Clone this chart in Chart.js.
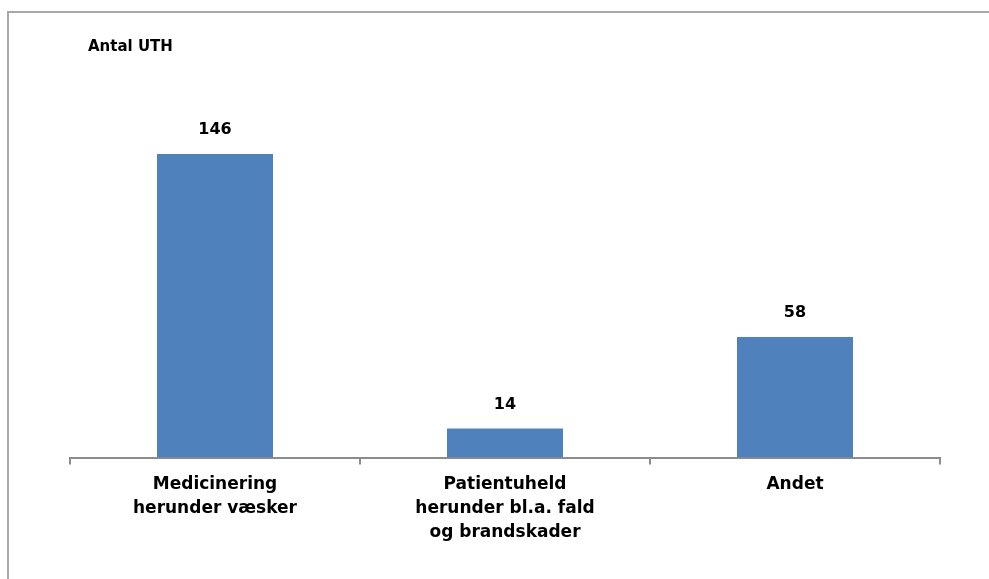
<!DOCTYPE html>
<html>
<head>
<meta charset="utf-8">
<script src="https://cdn.jsdelivr.net/npm/chart.js@4"></script>
<style>
  html, body { margin: 0; padding: 0; background: #fff; }
  #wrap { position: relative; width: 989px; height: 579px; overflow: hidden; }
  #frame { position: absolute; left: 7px; top: 11px; width: 1000px; height: 600px;
           border-left: 2px solid #a8a8a8; border-top: 2px solid #a8a8a8; }
  canvas { position: absolute; left: 0; top: 0; }
</style>
</head>
<body>
<div id="wrap">
  <div id="frame"></div>
  <canvas id="uthChart" width="989" height="579"></canvas>
</div>
<script>
var categories = [
    ['Medicinering', 'herunder væsker'],
    ['Patientuheld', 'herunder bl.a. fald', 'og brandskader'],
    ['Andet']
];
var counts = [146, 14, 58];
var yTitle = 'Antal UTH';
var barColor = '#4f81bd';

// tal over søjlerne + akse titel
var labelPlugin = {
    id: 'labels',
    afterDatasetsDraw: function (chart) {
        var ctx = chart.ctx;
        ctx.save();
        ctx.fillStyle = '#000';
        ctx.font = 'bold 16px "DejaVu Sans"';
        ctx.textAlign = 'center';
        ctx.textBaseline = 'middle';
        chart.getDatasetMeta(0).data.forEach(function (bar, i) {
            ctx.fillText(counts[i], bar.x, bar.y - 24);
        });
        ctx.textAlign = 'left';
        ctx.font = 'bold 15px "DejaVu Sans"';
        ctx.fillText(yTitle, chart.chartArea.left + 18, 47);
        ctx.restore();
    }
};

new Chart('uthChart', {
    type: 'bar',
    data: {
        labels: categories,
        datasets: [{
            label: yTitle,
            data: counts,
            backgroundColor: barColor,
            barPercentage: 0.4,
            categoryPercentage: 1
        }]
    },
    options: {
        responsive: false,
        animation: false,
        layout: { padding: { left: 70, right: 49, top: 125, bottom: 26 } },
        plugins: {
            legend: { display: false },
            tooltip: { enabled: false }
        },
        scales: {
            y: { display: false, min: 0, max: 160 },
            x: {
                grid: {
                    offset: true,
                    drawOnChartArea: false,
                    tickLength: 7,
                    color: '#8c8c8c',
                    lineWidth: 2
                },
                border: { color: '#8c8c8c', width: 2 },
                ticks: {
                    color: '#000',
                    padding: 8,
                    maxRotation: 0,
                    font: { family: 'DejaVu Sans', weight: 'bold', size: 17, lineHeight: 1.42 }
                }
            }
        }
    },
    plugins: [labelPlugin]
});
</script>
</body>
</html>
